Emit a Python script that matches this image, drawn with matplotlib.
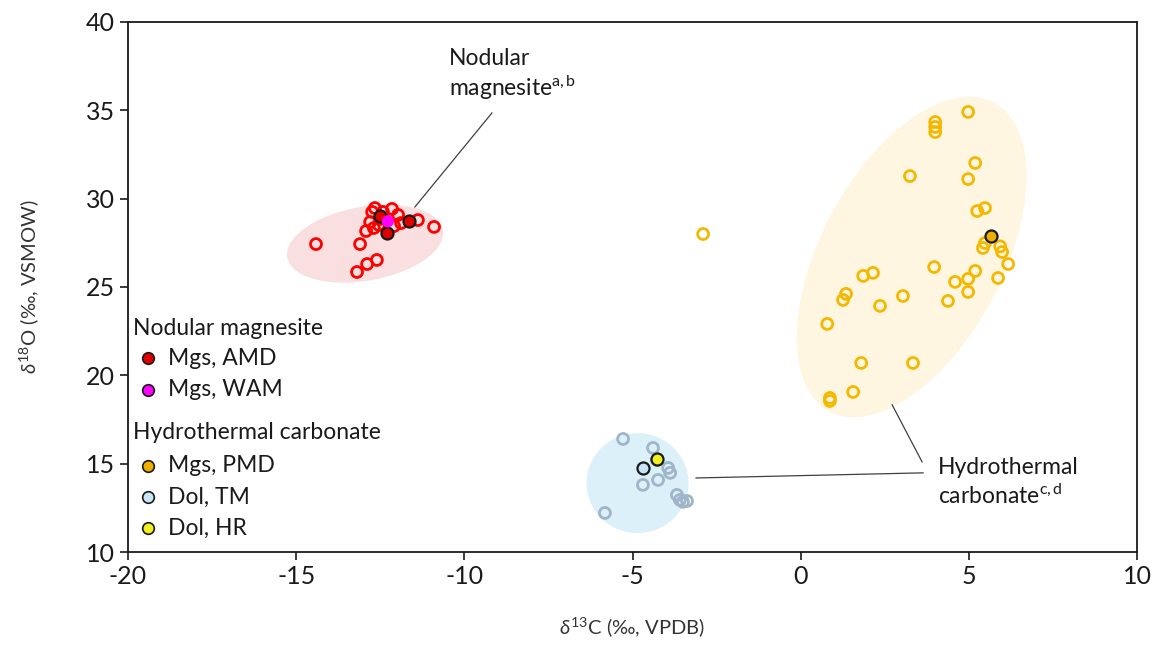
import matplotlib
matplotlib.use("Agg")
import matplotlib.pyplot as plt
from matplotlib.patches import Ellipse
import matplotlib.transforms as mtransforms

plt.rcParams['font.family'] = ['Lato', 'DejaVu Sans']
plt.rcParams['mathtext.fontset'] = 'custom'
plt.rcParams['mathtext.rm'] = 'Lato'
plt.rcParams['mathtext.it'] = 'Lato:italic'

# ---------------- data ----------------
# literature nodular magnesite (open red)
lit_nod_x = [-14.41, -13.10, -13.19, -12.89, -12.60, -11.38, -10.90,
             -12.74, -12.66, -12.42, -12.15, -11.97, -12.80, -12.69, -12.92,
             -12.54, -12.09, -11.88, -12.51]
lit_nod_y = [27.43, 27.43, 25.85, 26.30, 26.53, 28.79, 28.40,
             29.25, 29.47, 29.25, 29.42, 29.08, 28.68, 28.34, 28.17,
             28.51, 28.45, 28.62, 28.85]
# literature hydrothermal magnesite (open gold)
lit_pmd_x = [4.98, 4.00, 4.00, 4.00, 5.19, 3.25, 4.98, 5.25, 5.48, 5.48, 5.42,
             5.93, 5.99, 6.17, 3.97, 5.19, 5.87, 4.59, 4.98, 4.98, 4.38, 1.86,
             2.15, 3.04, 2.36, 1.35, 1.26, 0.79, 1.80, 3.34, 1.56, 0.87, 0.87,
             -2.90]
lit_pmd_y = [34.91, 34.34, 34.06, 33.77, 32.02, 31.28, 31.11, 29.30, 29.47, 27.49,
             27.21, 27.30, 26.98, 26.30, 26.13, 25.91, 25.51, 25.29, 25.46, 24.72,
             24.21, 25.63, 25.80, 24.49, 23.93, 24.61, 24.27, 22.91, 20.70, 20.70,
             19.06, 18.72, 18.55, 28.00]
# literature hydrothermal dolomite (open grey-blue)
lit_dol_x = [-5.28, -4.39, -4.27, -3.94, -3.88, -4.24, -4.69, -3.68, -3.59, -3.50, -3.38, -5.82]
lit_dol_y = [16.40, 15.89, 15.20, 14.76, 14.48, 14.08, 13.80, 13.23, 12.95, 12.84, 12.89, 12.21]

# this study (filled)
amd_x = [-12.51, -12.30, -11.64]
amd_y = [29.02, 28.06, 28.74]
wam_x = [-12.27]
wam_y = [28.72]
pmd_x = [5.66]
pmd_y = [27.89]
tm_x = [-4.69]
tm_y = [14.76]
hr_x = [-4.27]
hr_y = [15.26]

# field ellipses: centre (data), width/height (px), angle (deg)
nod_field = (-12.95, 27.45, 158, 74, 10)
hyd_field = (3.30, 26.70, 350, 182, 62)
dol_field = (-4.85, 13.90, 102, 100, 0)

x_ticks = [-20, -15, -10, -5, 0, 5, 10]
y_ticks = [10, 15, 20, 25, 30, 35, 40]

group_titles = ['Nodular magnesite', 'Hydrothermal carbonate']
legend_labels = [['Mgs, AMD', 'Mgs, WAM'], ['Mgs, PMD', 'Dol, TM', 'Dol, HR']]

# ---------------- colours ----------------
red = '#ff0000'
gold = '#f5b800'
greyblue = '#9fb6c9'
c_amd = '#e00000'
c_wam = '#ff00ff'
c_pmd = '#f0ae00'
c_tm = '#c8e6f6'
c_hr = '#f0f020'
legend_colors = [[c_amd, c_wam], [c_pmd, c_tm, c_hr]]

fig = plt.figure(figsize=(11.64, 6.48), dpi=100)
ax = fig.add_axes([128 / 1164, 1 - 552 / 648, 1009 / 1164, 530 / 648])
ax.set_xlim(-20, 10)
ax.set_ylim(10, 40)


def add_field(params, color):
    cx, cy, w, h, ang = params
    tr = fig.dpi_scale_trans + mtransforms.ScaledTranslation(cx, cy, ax.transData)
    e = Ellipse((0, 0), w / 100, h / 100, angle=ang, transform=tr,
                facecolor=color, edgecolor='none', zorder=1)
    ax.add_patch(e)


add_field(nod_field, '#f9dfdf')
add_field(hyd_field, '#fff6e2')
add_field(dol_field, '#dcf0fa')

ms = 62
ax.scatter(lit_nod_x, lit_nod_y, s=ms, facecolors='none', edgecolors=red, linewidths=2.0, zorder=3)
ax.scatter(lit_pmd_x, lit_pmd_y, s=ms, facecolors='none', edgecolors=gold, linewidths=2.0, zorder=3)
ax.scatter(lit_dol_x, lit_dol_y, s=ms, facecolors='none', edgecolors=greyblue, linewidths=2.0, zorder=3)

fs = 75
ax.scatter(amd_x, amd_y, s=fs, c=c_amd, edgecolors='#1a1a1a', linewidths=1.6, zorder=4)
ax.scatter(wam_x, wam_y, s=fs, c=c_wam, edgecolors='none', linewidths=0, zorder=5)
ax.scatter(pmd_x, pmd_y, s=fs, c=c_pmd, edgecolors='#1a1a1a', linewidths=1.6, zorder=4)
ax.scatter(tm_x, tm_y, s=fs, c=c_tm, edgecolors='#1a1a1a', linewidths=1.6, zorder=4)
ax.scatter(hr_x, hr_y, s=fs, c=c_hr, edgecolors='#1a1a1a', linewidths=1.6, zorder=5)

# annotation leader lines
line_kw = dict(color='#404040', lw=0.9, zorder=2)
ax.plot([-11.47, -9.18], [29.53, 34.85], **line_kw)
ax.plot([2.72, 3.61], [18.33, 15.10], **line_kw)
ax.plot([-3.11, 3.64], [14.19, 14.48], **line_kw)

ax.text(-10.45, 37.0, 'Nodular\nmagnesite$^{\\mathrm{a,b}}$', fontsize=16.5, ha='left', va='center',
        linespacing=1.2, color='#1a1a1a')
ax.text(4.08, 13.95, 'Hydrothermal\ncarbonate$^{\\mathrm{c,d}}$', fontsize=16.5, ha='left', va='center',
        linespacing=1.3, color='#1a1a1a')

# manual legend
title_y = [0.4226, 0.2264]
entry_y = [[0.366, 0.3057], [0.1623, 0.1038, 0.0453]]
for g in range(2):
    ax.text(0.005, title_y[g], group_titles[g], transform=ax.transAxes, fontsize=16.5,
            ha='left', va='center', color='#1a1a1a')
    for lab, col, yy in zip(legend_labels[g], legend_colors[g], entry_y[g]):
        ax.scatter([0.0198], [yy], s=70, c=col, edgecolors='#1a1a1a', linewidths=1.2,
                   transform=ax.transAxes, zorder=6, clip_on=False)
        ax.text(0.0396, yy, lab, transform=ax.transAxes, fontsize=16.5,
                ha='left', va='center', color='#1a1a1a')

ax.set_xticks(x_ticks)
ax.set_yticks(y_ticks)
ax.set_xticklabels([str(v) for v in x_ticks])
ax.set_yticklabels([str(v) for v in y_ticks])
ax.tick_params(axis='both', labelsize=18, direction='out', length=6, width=1.2, colors='#1a1a1a')
ax.tick_params(axis='x', pad=3)
for sp in ax.spines.values():
    sp.set_linewidth(1.3)
    sp.set_color('#1a1a1a')

ax.set_xlabel('$\\it{\\delta}^{13}$C (‰, VPDB)', fontsize=14.5, color='#333333', labelpad=20)
ax.set_ylabel('$\\it{\\delta}^{18}$O (‰, VSMOW)', fontsize=14.5, color='#333333', labelpad=32)

fig.savefig('out.png', dpi=100)
